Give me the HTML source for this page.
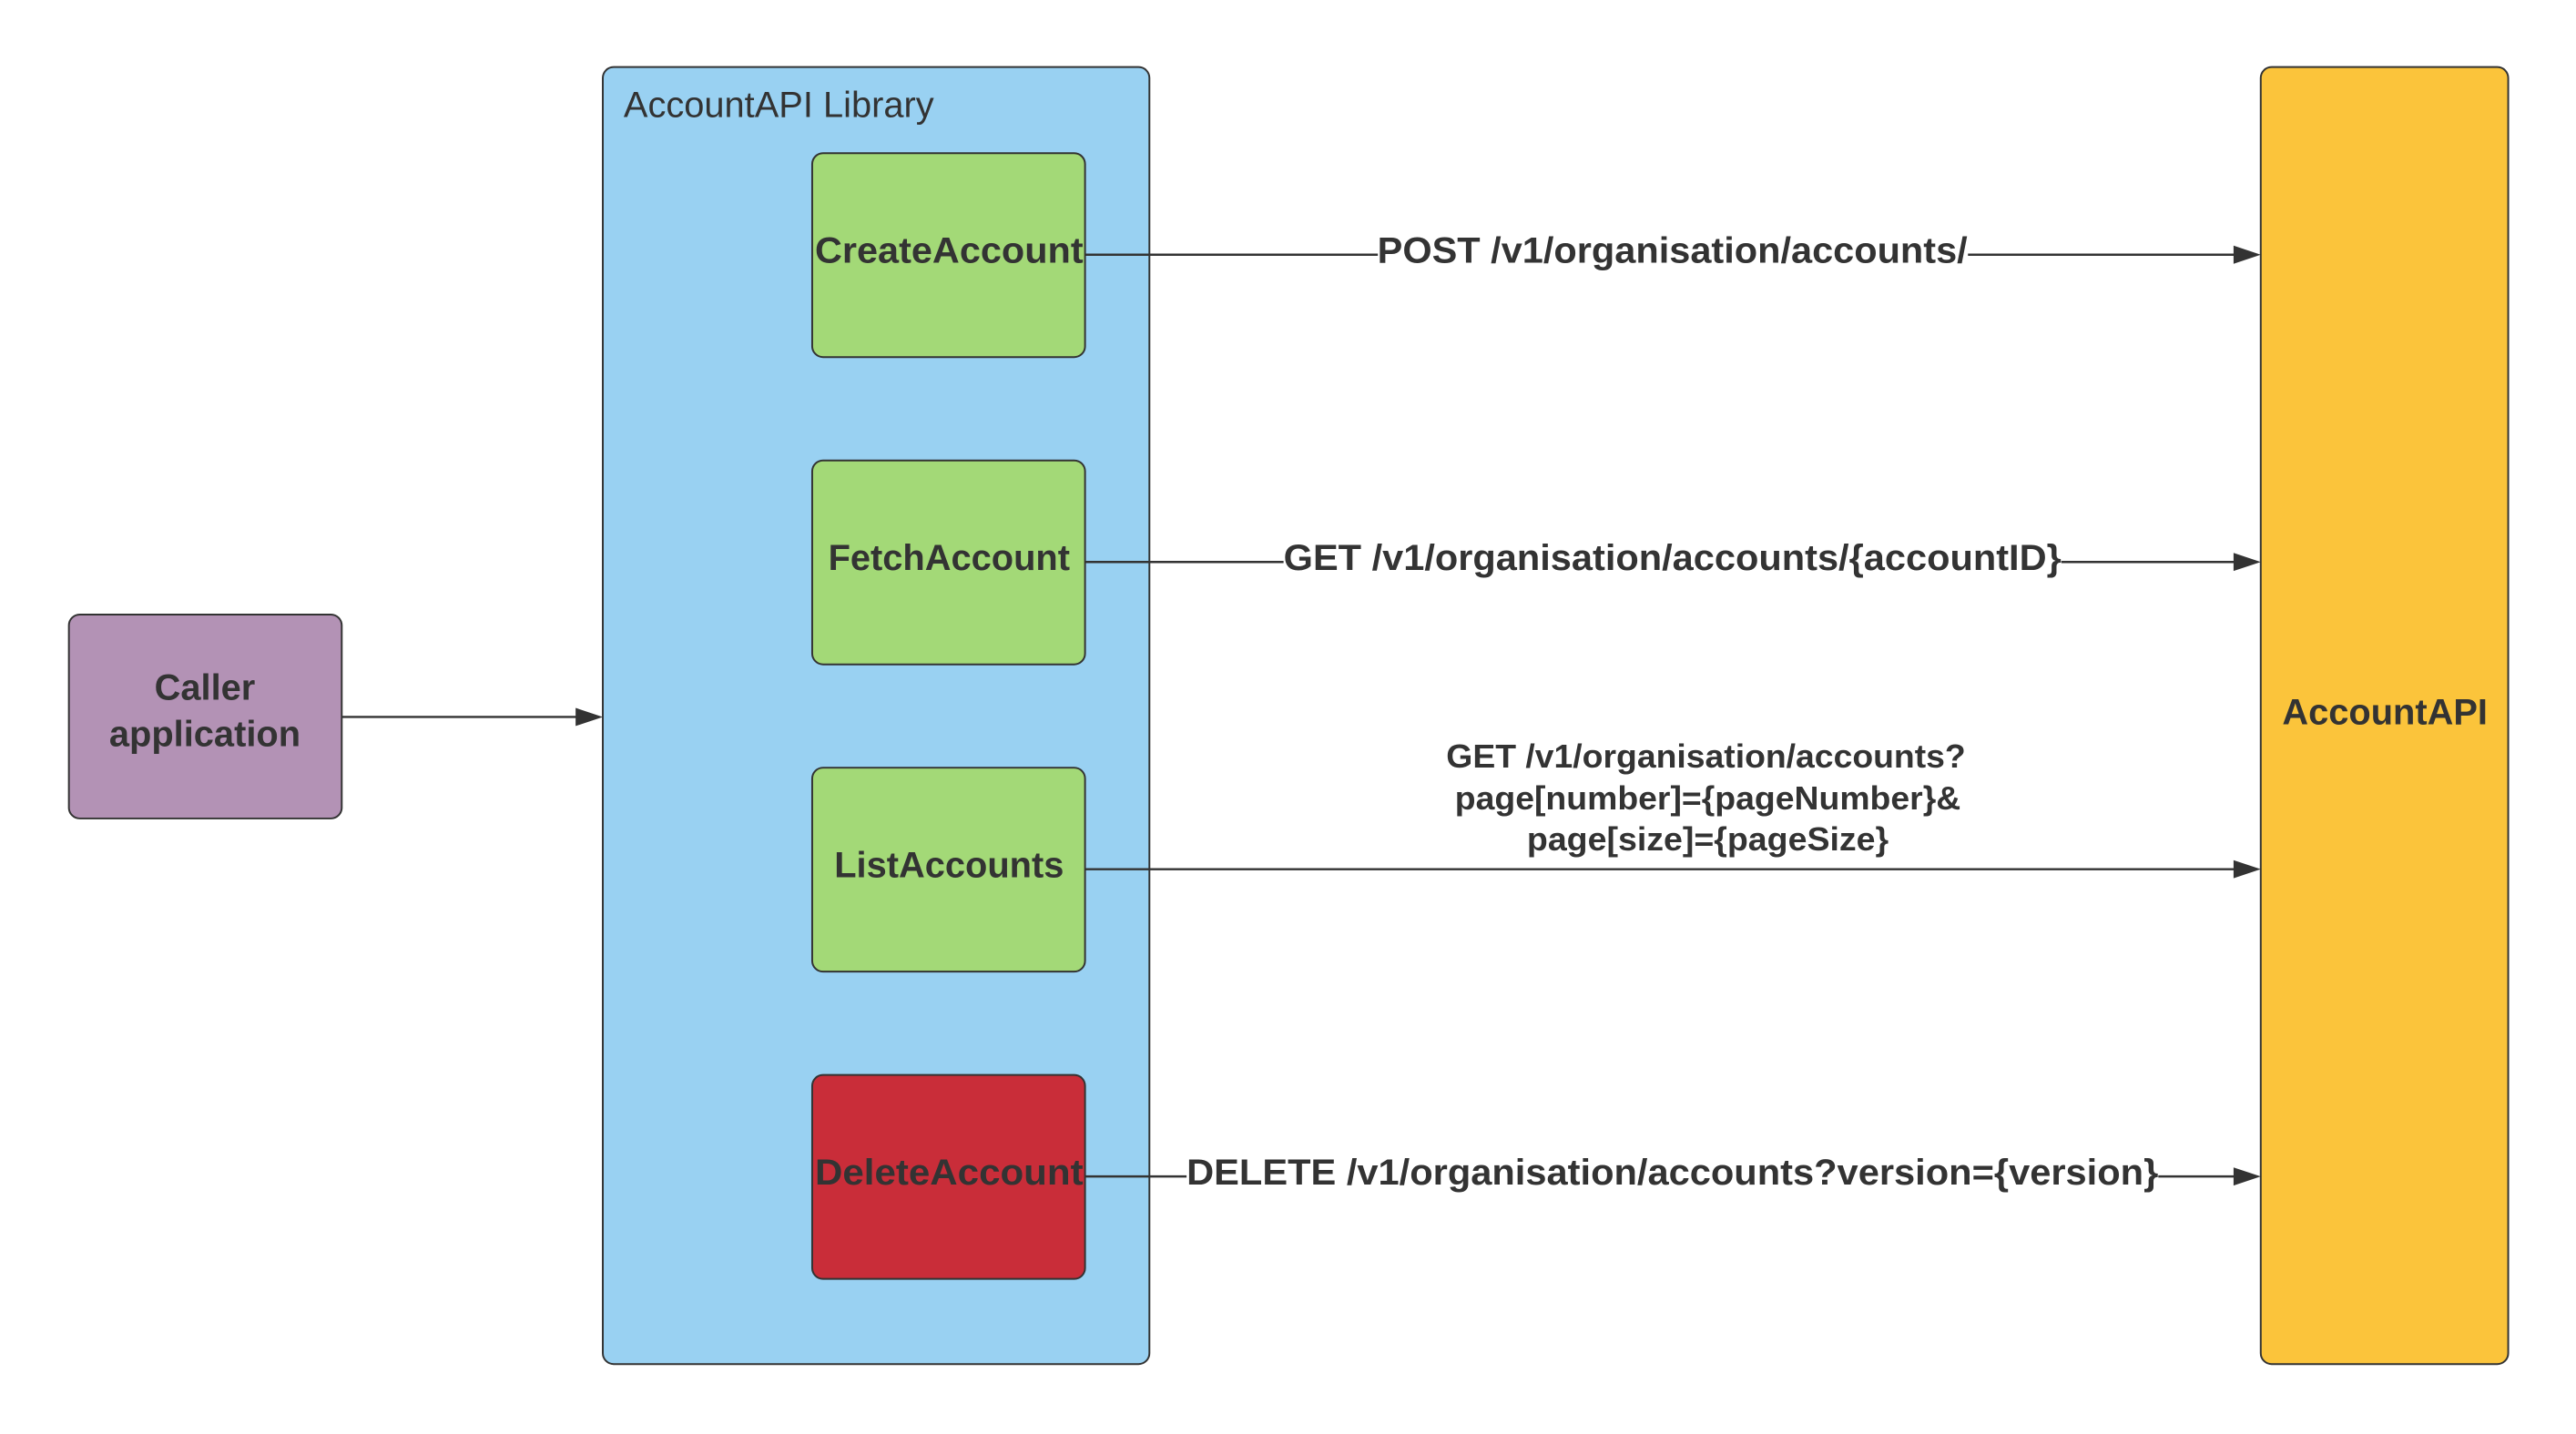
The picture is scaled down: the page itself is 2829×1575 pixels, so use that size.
<!DOCTYPE html>
<html><head><meta charset="utf-8"><style>
html,body{margin:0;padding:0;background:#fff;}
svg{display:block;}
text{font-family:"Liberation Sans",Arial,sans-serif;fill:#333;}
.b{font-weight:bold;}
</style></head><body>
<svg width="2829" height="1575" viewBox="0 0 2829 1575" xmlns="http://www.w3.org/2000/svg">
<g transform="scale(0.9955)">
<rect x="665" y="74" width="603" height="1431" rx="12" fill="#99d1f2" stroke="#333" stroke-width="2"/>
<text x="688" y="129" font-size="40">AccountAPI Library</text>

<rect x="2494" y="74" width="273" height="1431" rx="12" fill="#fbc43b" stroke="#333" stroke-width="2"/>
<text x="2631" y="799" font-size="40" class="b" text-anchor="middle">AccountAPI</text>

<rect x="76" y="678" width="301" height="225" rx="12" fill="#b392b5" stroke="#333" stroke-width="2"/>
<text x="226" y="772" font-size="40" class="b" text-anchor="middle">Caller</text>
<text x="226" y="823" font-size="40" class="b" text-anchor="middle">application</text>

<rect x="896" y="169" width="301" height="225" rx="12" fill="#a3d977" stroke="#333" stroke-width="2"/>
<rect x="896" y="508" width="301" height="225" rx="12" fill="#a3d977" stroke="#333" stroke-width="2"/>
<rect x="896" y="847" width="301" height="225" rx="12" fill="#a3d977" stroke="#333" stroke-width="2"/>
<rect x="896" y="1186" width="301" height="225" rx="12" fill="#c92d39" stroke="#333" stroke-width="2"/>
<text x="1047" y="290" font-size="40" class="b" text-anchor="middle" textLength="296" lengthAdjust="spacingAndGlyphs">CreateAccount</text>
<text x="1047" y="629" font-size="40" class="b" text-anchor="middle">FetchAccount</text>
<text x="1047" y="968" font-size="40" class="b" text-anchor="middle">ListAccounts</text>
<text x="1047" y="1307" font-size="40" class="b" text-anchor="middle" textLength="296" lengthAdjust="spacingAndGlyphs">DeleteAccount</text>

<g stroke="#333" stroke-width="2.5" fill="none">
<line x1="377" y1="791" x2="645" y2="791"/>
<line x1="1197" y1="281" x2="2474" y2="281"/>
<line x1="1197" y1="620" x2="2474" y2="620"/>
<line x1="1197" y1="959" x2="2474" y2="959"/>
<line x1="1197" y1="1298" x2="2474" y2="1298"/>
</g>
<g fill="#333">
<polygon points="665,791 635,781 635,801"/>
<polygon points="2494,281 2464,271 2464,291"/>
<polygon points="2494,620 2464,610 2464,630"/>
<polygon points="2494,959 2464,949 2464,969"/>
<polygon points="2494,1298 2464,1288 2464,1308"/>
</g>
<g fill="#fff">
<rect x="1520" y="255" width="651" height="52"/>
<rect x="1416" y="594" width="858" height="52"/>
<rect x="1309" y="1272" width="1072" height="52"/>
</g>
<text x="1845" y="290" font-size="40" class="b" text-anchor="middle" textLength="651" lengthAdjust="spacingAndGlyphs">POST /v1/organisation/accounts/</text>
<text x="1845" y="629" font-size="40" class="b" text-anchor="middle" textLength="858" lengthAdjust="spacingAndGlyphs">GET /v1/organisation/accounts/{accountID}</text>
<text x="1845" y="1307" font-size="40" class="b" text-anchor="middle" textLength="1072" lengthAdjust="spacingAndGlyphs">DELETE /v1/organisation/accounts?version={version}</text>
<text x="1882" y="847" font-size="36" class="b" text-anchor="middle" textLength="573" lengthAdjust="spacingAndGlyphs">GET /v1/organisation/accounts?</text>
<text x="1884" y="893" font-size="36" class="b" text-anchor="middle" textLength="558" lengthAdjust="spacingAndGlyphs">page[number]={pageNumber}&amp;</text>
<text x="1884" y="938" font-size="36" class="b" text-anchor="middle" textLength="399" lengthAdjust="spacingAndGlyphs">page[size]={pageSize}</text>
</g>
</svg>
</body></html>
